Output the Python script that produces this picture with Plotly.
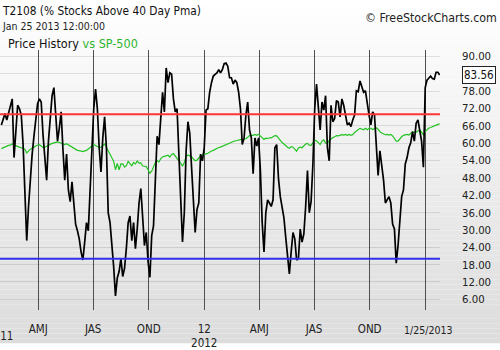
import pandas as pd
import plotly.graph_objects as go

# ---------------- data ----------------
START_DATE = "2011-01-30"          # first sample; samples every 3 calendar days
SAMPLE_FREQ = "3D"
LAST_DATE_LABEL = "1/25/2013"
LAST_VALUE = 83.56

t2108 = [
    66.3, 68.0, 70.2, 68.0, 70.2, 72.5, 75.3, 55.0, 66.3, 73.1,
    71.9, 69.7, 59.5, 44.9, 26.3, 38.1, 49.4, 56.2, 62.4, 68.0,
    73.6, 75.3, 74.2, 62.9, 53.9, 47.2, 60.7, 69.7, 76.4, 79.2,
    70.8, 60.7, 65.2, 70.8, 57.9, 47.2, 56.2, 43.8, 39.8, 46.6,
    39.3, 32.0, 29.7, 26.9, 22.4, 19.6, 25.8, 32.5, 29.7, 42.6,
    60.7, 71.9, 78.7, 71.9, 58.4, 50.0, 61.8, 69.1, 58.4, 35.9,
    32.5, 25.8, 17.3, 7.2, 13.4, 15.6, 20.1, 13.9, 16.7, 23.5,
    32.5, 34.8, 26.3, 32.5, 23.5, 30.3, 39.3, 44.3, 33.6, 24.6,
    29.1, 19.0, 13.6, 28.0, 31.4, 47.2, 62.4, 59.5, 69.1, 77.6,
    70.8, 86.0, 80.9, 84.3, 83.8, 75.3, 70.8, 71.9, 56.2, 38.1,
    25.8, 35.9, 57.3, 67.4, 63.5, 51.7, 42.1, 29.1, 37.0, 39.3,
    56.2, 53.9, 58.4, 71.4, 71.9, 77.6, 80.9, 83.2, 83.8, 84.3,
    85.4, 84.3, 85.4, 87.5, 87.7, 86.6, 82.6, 82.6, 80.4, 81.8,
    80.9, 77.6, 71.9, 59.5, 61.8, 69.7, 74.2, 64.6, 61.8, 49.4,
    61.8, 59.0, 61.8, 50.5, 32.5, 22.4, 35.9, 40.4, 39.3, 38.1,
    40.4, 58.4, 59.5, 47.7, 41.5, 38.1, 34.2, 27.4, 20.1, 14.8,
    22.4, 29.1, 26.9, 19.6, 20.1, 30.3, 25.8, 28.6, 38.1, 50.5,
    35.9, 39.8, 52.8, 71.9, 80.4, 73.1, 64.6, 74.2, 71.4, 76.4,
    58.4, 53.9, 73.1, 67.4, 68.5, 74.7, 74.2, 69.1, 75.3, 73.1,
    70.2, 66.3, 66.9, 65.7, 68.0, 69.7, 78.1, 77.8, 81.5, 79.8,
    77.6, 78.1, 73.1, 69.7, 66.3, 70.8, 69.7, 57.3, 48.8, 57.3,
    52.2, 47.2, 39.3, 40.4, 41.5, 39.3, 32.0, 30.3, 18.5, 24.6,
    32.0, 41.5, 43.8, 52.8, 55.0, 58.4, 60.1, 64.0, 60.7, 66.9,
    68.0, 64.6, 60.7, 51.7, 79.2, 81.8, 82.4, 83.2, 82.3, 82.1,
    84.5, 84.5, 83.56,
]

sp500 = [
    58.1, 58.4, 58.6, 59.0, 59.2, 59.3, 59.8, 59.3, 59.0, 58.8,
    58.6, 58.4, 58.2, 57.9, 56.6, 57.3, 57.9, 58.2, 58.5, 59.1,
    59.4, 59.5, 59.0, 58.5, 58.6, 59.0, 59.3, 59.5, 59.9, 60.1,
    60.3, 60.4, 60.2, 60.0, 59.7, 59.5, 59.8, 59.4, 59.0, 58.6,
    58.4, 57.9, 57.5, 57.4, 57.2, 57.1, 57.3, 57.5, 58.0, 58.4,
    59.0, 59.5, 59.2, 58.9, 58.5, 58.6, 59.3, 59.7, 58.6, 57.3,
    56.2, 55.0, 53.7, 50.8, 53.0, 50.8, 52.8, 52.8, 51.7, 52.2,
    53.7, 52.9, 52.2, 53.3, 52.8, 53.8, 53.1, 53.2, 52.1, 52.0,
    51.9, 50.8, 49.6, 50.3, 52.1, 53.3, 53.9, 53.5, 54.6, 55.3,
    55.4, 55.7, 55.8, 55.2, 56.1, 56.4, 55.6, 54.9, 53.9, 53.1,
    52.0, 53.3, 55.4, 55.9, 55.6, 55.3, 54.5, 53.9, 54.1, 54.9,
    55.6, 55.9, 56.2, 56.3, 56.5, 57.0, 57.3, 57.5, 57.9, 58.4,
    58.5, 58.6, 58.9, 59.1, 59.4, 59.7, 60.0, 60.3, 60.7, 60.8,
    60.9, 61.1, 61.2, 61.2, 61.3, 61.5, 62.0, 62.6, 62.7, 62.7,
    63.0, 62.7, 63.1, 62.4, 61.8, 61.3, 61.7, 61.6, 61.8, 61.8,
    62.2, 62.6, 62.5, 61.7, 60.7, 60.2, 59.7, 59.0, 58.6, 58.2,
    58.8, 58.6, 58.0, 57.2, 58.3, 58.6, 58.4, 59.1, 59.7, 59.9,
    59.3, 59.2, 59.9, 60.9, 60.8, 60.2, 59.5, 60.7, 61.1, 60.0,
    59.9, 60.9, 61.5, 61.9, 62.2, 62.6, 62.5, 62.7, 62.9, 62.8,
    63.0, 62.7, 63.0, 62.7, 62.9, 63.7, 64.2, 64.6, 65.1, 64.9,
    64.6, 65.1, 64.6, 65.1, 65.1, 64.7, 65.1, 65.3, 64.8, 63.9,
    63.5, 63.1, 62.9, 63.0, 62.8, 63.0, 62.5, 61.6, 60.7, 60.7,
    61.6, 62.2, 62.7, 62.9, 63.0, 62.8, 63.5, 63.9, 63.7, 63.8,
    64.2, 64.5, 63.8, 62.8, 64.0, 64.6, 65.2, 65.4, 65.7, 66.1,
    66.2, 66.5, 66.7,
]

THRESH_HIGH = 70
THRESH_LOW = 20

X_RANGE = ["2011-01-27 18:00", "2013-01-25 12:00"]
Y_RANGE = [2.3, 92.2]

x_tickvals = ["2011-01-28", "2011-04-01", "2011-07-01", "2011-10-01", "2012-01-01",
              "2012-04-01", "2012-07-01", "2012-10-01", "2013-01-01"]
x_ticktext = ["", "AMJ", "JAS", "OND", "12<br>2012", "AMJ", "JAS", "OND", ""]
FIRST_YEAR_LABEL = "2011"

y_tickvals = [6, 12, 18, 24, 30, 36, 42, 48, 54, 60, 66, 72, 78, 84, 90]

TITLE = "T2108 (% Stocks Above 40 Day Pma)"
SUBTITLE = "Jan 25 2013 12:00:00"
LEGEND_BLACK = "Price History "
LEGEND_GREEN = "vs SP-500"
COPYRIGHT = "© FreeStockCharts.com"

# ---------------- styling ----------------
FONT = "DejaVu Sans Condensed, Liberation Sans, sans-serif"
W, H = 500, 350
ML, MR, MT, MB = 0, 60, 50, 34
PLOT_H = H - MT - MB
PLOT_W = W - ML - MR

dates = pd.date_range(START_DATE, periods=len(t2108), freq=SAMPLE_FREQ)


def py(pix):
    """pixel row -> paper y"""
    return (H - MB - pix) / PLOT_H


def px(pix):
    """pixel column -> paper x"""
    return (pix - ML) / PLOT_W


fig = go.Figure()
fig.add_trace(go.Scatter(x=dates, y=sp500, mode="lines",
                         line=dict(color="#22c322", width=1.2), hoverinfo="skip"))
fig.add_trace(go.Scatter(x=dates, y=t2108, mode="lines",
                         line=dict(color="#000000", width=1.7), hoverinfo="skip"))

shapes = []
# vertical gradient background (white -> light gray)
NB = 70
for k in range(NB):
    p0 = k * H / NB
    p1 = (k + 1) * H / NB
    c = round(255 - 35 * ((p0 + p1) / 2) / H)
    shapes.append(dict(type="rect", xref="paper", yref="paper",
                       x0=px(0), x1=px(W), y0=py(p1), y1=py(p0),
                       fillcolor=f"rgb({c},{c},{c})", line=dict(width=0),
                       layer="below"))
for val, col in [(THRESH_HIGH, "#ff3434"), (THRESH_LOW, "#3030e8")]:
    shapes.append(dict(type="line", xref="paper", yref="y", x0=0, x1=1,
                       y0=val, y1=val, line=dict(color=col, width=2), layer="above"))

annotations = [
    dict(text=TITLE, xref="paper", yref="paper", x=px(0), y=py(10),
         xanchor="left", yanchor="middle", showarrow=False,
         font=dict(family=FONT, size=11.8, color="#111")),
    dict(text=SUBTITLE, xref="paper", yref="paper", x=px(0), y=py(25),
         xanchor="left", yanchor="middle", showarrow=False,
         font=dict(family=FONT, size=10.5, color="#222")),
    dict(text=f"{LEGEND_BLACK}<span style='color:#2db52d'>{LEGEND_GREEN}</span>",
         xref="paper", yref="paper", x=px(6), y=py(43),
         xanchor="left", yanchor="middle", showarrow=False,
         font=dict(family=FONT, size=12.5, color="#111")),
    dict(text=COPYRIGHT, xref="paper", yref="paper", x=px(499), y=py(17),
         xanchor="right", yanchor="middle", showarrow=False,
         font=dict(family=FONT, size=12.3, color="#222")),
    dict(text=f"{LAST_VALUE:.2f}", xref="paper", yref="y", x=px(462), y=LAST_VALUE,
         xanchor="left", yanchor="middle", showarrow=False,
         bgcolor="#ffffff", bordercolor="#222", borderwidth=1, borderpad=1,
         font=dict(family=FONT, size=11.5, color="#111")),
    dict(text=LAST_DATE_LABEL, xref="paper", yref="paper", x=px(428), y=py(336),
         xanchor="center", yanchor="middle", showarrow=False,
         font=dict(family=FONT, size=10.5, color="#222")),
    dict(text=FIRST_YEAR_LABEL, xref="paper", yref="paper", x=px(0), y=py(343),
         xanchor="center", yanchor="middle", showarrow=False,
         font=dict(family=FONT, size=11.5, color="#222")),
]

fig.update_layout(
    width=W, height=H,
    margin=dict(l=ML, r=MR, t=MT, b=MB, pad=0),
    paper_bgcolor="#ffffff",
    plot_bgcolor="rgba(0,0,0,0)",
    showlegend=False,
    shapes=shapes,
    annotations=annotations,
    xaxis=dict(type="date", range=X_RANGE, tickmode="array",
               tickvals=x_tickvals, ticktext=x_ticktext,
               showgrid=True, gridcolor="#505050", gridwidth=1,
               zeroline=False, showline=False, ticks="",
               ticklabelstandoff=10,
               tickfont=dict(family=FONT, size=11.5, color="#222")),
    yaxis=dict(range=Y_RANGE, side="right", tickmode="array",
               tickvals=y_tickvals,
               ticktext=["" if v == 84 else f"{v:.2f}" for v in y_tickvals],
               showgrid=True, gridcolor="rgba(0,0,0,0.1)", gridwidth=1,
               zeroline=False, showline=False, ticks="",
               ticklabelstandoff=21,
               tickfont=dict(family=FONT, size=11.3, color="#222")),
    font=dict(family=FONT),
)

fig.write_html("out.html")
